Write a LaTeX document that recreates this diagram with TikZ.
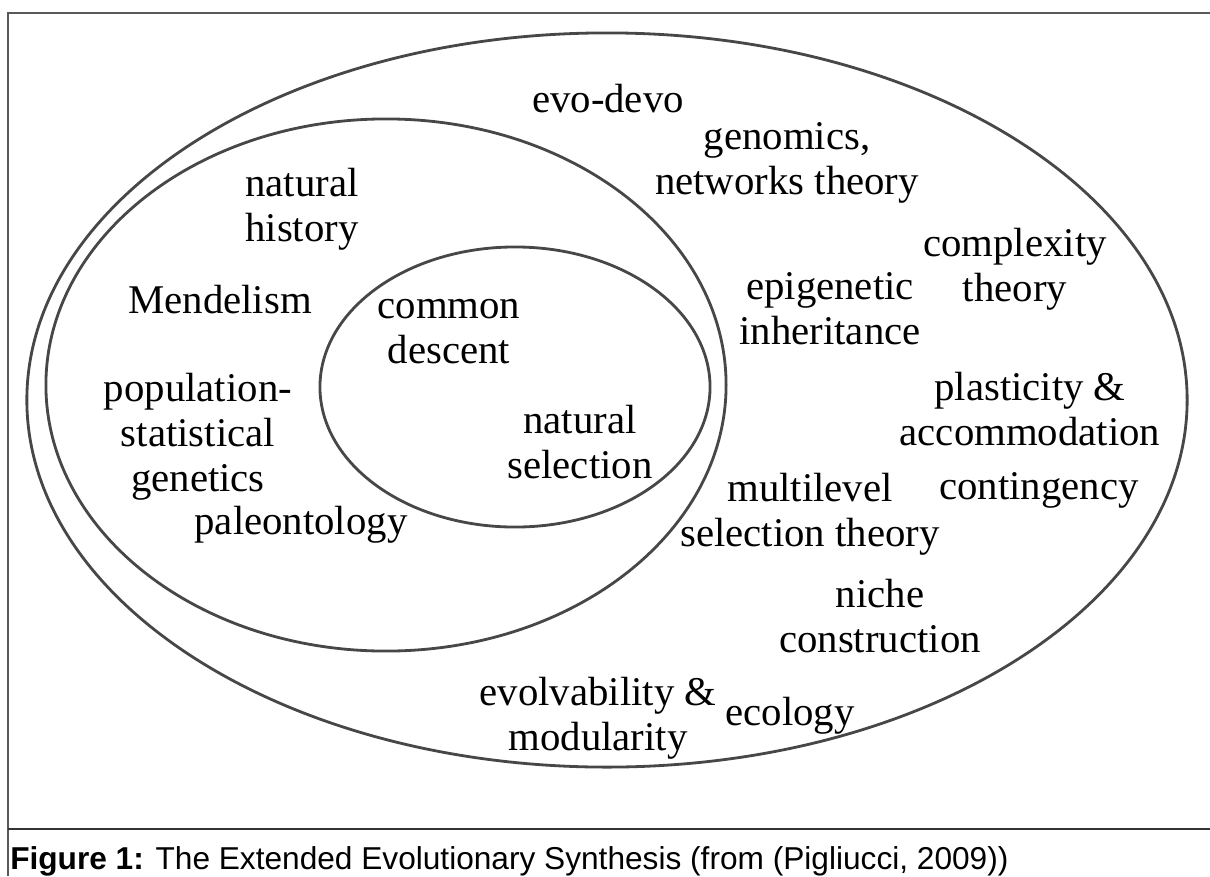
\documentclass[tikz,border=0pt]{standalone}
\usepackage{fontspec}
\setmainfont{Liberation Serif}
\newfontfamily\capfont{Liberation Sans}
\begin{document}
\begin{tikzpicture}[x=0.025cm,y=-0.025cm,
  ring/.style={draw=black!72,line width=2pt},
  lbl/.style={align=center,inner sep=0pt,font=\fontsize{29}{32}\selectfont}]
\useasboundingbox (0,0) rectangle (1210,876);
% frame and caption rule
\draw[black!65,line width=1.2pt] (1210,13) -- (8,13) -- (8,876);
\draw[black!80,line width=1.2pt] (8,829) -- (1210,829);

% the three rings
\draw[ring] (607,400) ellipse [x radius=14.5cm, y radius=9.175cm];
\draw[ring] (386,385) ellipse [x radius=8.5cm, y radius=6.65cm];
\draw[ring] (515,387) ellipse [x radius=4.875cm, y radius=3.5cm];

% inner ring
\node[lbl] (descent) at (449,332) {common\\descent};
\node[lbl] (selection) at (580,442) {natural\\selection};

% middle ring
\node[lbl] (history) at (302,209) {natural\\history};
\node[lbl] (mendel) at (220,300) {Mendelism};
\node[lbl] (popgen) at (198,437) {population-\\statistical\\genetics};
\node[lbl] (paleo) at (301,525) {paleontology};

% outer ring
\node[lbl] (evodevo) at (608,99) {evo-devo};
\node[lbl] (genomics) at (787,163) {genomics,\\networks theory};
\node[lbl] (complexity) at (1015,269) {complexity\\theory};
\node[lbl] (epigen) at (830,309) {epigenetic\\inheritance};
\node[lbl] (plasticity) at (1030,409) {plasticity \&\\accommodation};
\node[lbl] (multilevel) at (810,514) {multilevel\\selection theory};
\node[lbl] (contingency) at (1039,490) {contingency};
\node[lbl] (niche) at (880,616) {niche\\construction};
\node[lbl] (evolv) at (598,718) {evolvability \&\\modularity};
\node[lbl] (ecology) at (790,716) {ecology};

% caption
\node[anchor=base west,inner sep=0pt] (caption) at (10,869)
  {\capfont\fontsize{22.5}{27}\selectfont\textbf{Figure 1:} The Extended Evolutionary Synthesis (from (Pigliucci, 2009))};
\end{tikzpicture}
\end{document}
